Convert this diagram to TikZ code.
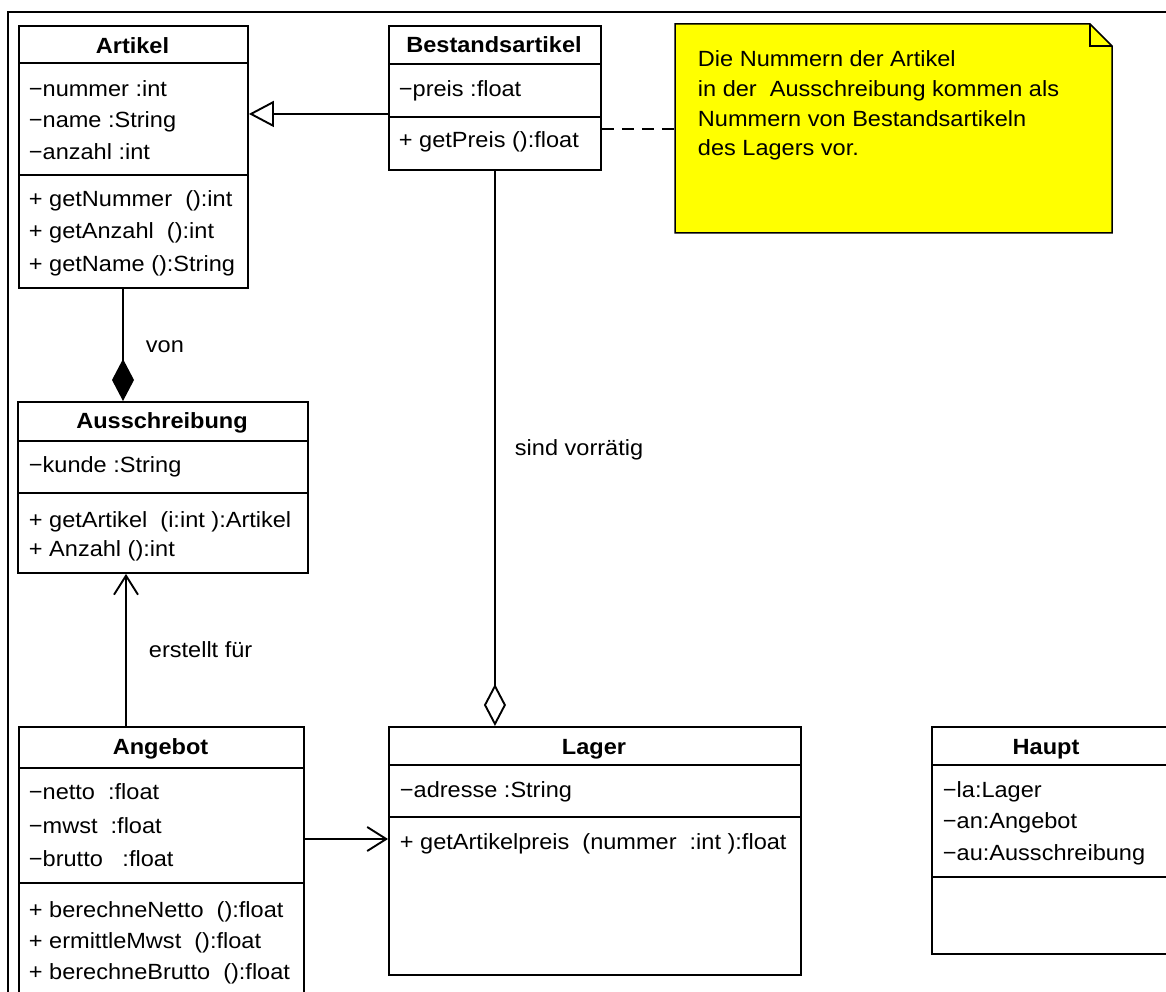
\documentclass[tikz,border=0pt]{standalone}
\usepackage{fontspec}
\setmainfont{Liberation Sans}[FakeStretch=1.07]
\usetikzlibrary{arrows.meta}
\newcommand\fsz{\fontsize{22}{29}\selectfont}
\definecolor{notey}{RGB}{255,255,0}
\begin{document}
\begin{tikzpicture}[x=1pt,y=-1pt, line width=1.9pt,
  cls/.style={draw, rectangle, inner sep=0pt, anchor=north west, fill=white},
  txt/.style={anchor=base west, inner sep=0pt, font=\fsz},
  ttl/.style={anchor=base, inner sep=0pt, font=\fsz\bfseries},
  lbl/.style={anchor=base west, inner sep=0pt, font=\fsz},
  gen/.style={-{Triangle[open, fill=white, length=25pt, width=26pt]}},
  comp/.style={{Diamond[length=42pt, width=22pt]}-},
  aggr/.style={-{Diamond[open, fill=white, length=42pt, width=22pt]}},
  nav/.style={-{Straight Barb[length=19pt, width=24pt]}},
  notelink/.style={dash pattern=on 12pt off 8pt}
]
\useasboundingbox (0,0) rectangle (1166,992);
\clip (0,0) rectangle (1166,992);
\fill[white] (0,0) rectangle (1166,992);
% frame
\draw[line width=2.2pt] (8,1000) -- (8,12) -- (1170,12);

% Artikel
\node[cls, minimum width=229pt, minimum height=262pt] (artikel) at (18,25) {};
\draw (18,63) -- (247,63);
\draw (18,175) -- (247,175);
\node[ttl] at (132.5,54) {Artikel};
\node[txt] at (28,97) {−nummer :int};
\node[txt] at (28,128) {−name :String};
\node[txt] at (28,160) {−anzahl :int};
\node[txt] at (28,207) {+ getNummer\ \ ():int};
\node[txt] at (28,239) {+ getAnzahl\ \ ():int};
\node[txt] at (28,271) {+ getName ():String};

% Bestandsartikel
\node[cls, minimum width=212pt, minimum height=144pt] (bestand) at (388,25) {};
\draw (388,64) -- (600,64);
\draw (388,117) -- (600,117);
\node[ttl] at (494,53) {Bestandsartikel};
\node[txt] at (398,97) {−preis :float};
\node[txt] at (398,148) {+ getPreis ():float};

% Note
\node[minimum width=437pt, minimum height=209pt, anchor=north west, inner sep=0pt] (note) at (675,24) {};
\draw[fill=notey, line width=1.5pt] (675,24) -- (1090,24) -- (1112,46) -- (1112,233) -- (675,233) -- cycle;
\draw[line width=1.5pt] (1090,24) -- (1090,46) -- (1112,46);
\node[txt] at (697,67) {Die Nummern der Artikel};
\node[txt] at (697,97) {in der\ \ Ausschreibung kommen als};
\node[txt] at (697,127) {Nummern von Bestandsartikeln};
\node[txt] at (697,156) {des Lagers vor.};

% Ausschreibung
\node[cls, minimum width=290pt, minimum height=171pt] (aus) at (17,401) {};
\draw (17,441) -- (307,441);
\draw (17,493) -- (307,493);
\node[ttl] at (162,428) {Ausschreibung};
\node[txt] at (28,472) {−kunde :String};
\node[txt] at (28,527) {+ getArtikel\ \ (i:int ):Artikel};
\node[txt] at (28,556) {+ Anzahl ():int};

% Angebot
\node[cls, minimum width=285pt, minimum height=300pt] (angebot) at (18,726) {};
\draw (18,768) -- (303,768);
\draw (18,883) -- (303,883);
\node[ttl] at (160.5,754) {Angebot};
\node[txt] at (28,799) {−netto\ \ :float};
\node[txt] at (28,833) {−mwst\ \ :float};
\node[txt] at (28,866) {−brutto\ \ \ :float};
\node[txt] at (28,917) {+ berechneNetto\ \ ():float};
\node[txt] at (28,948) {+ ermittleMwst\ \ ():float};
\node[txt] at (28,979) {+ berechneBrutto\ \ ():float};

% Lager
\node[cls, minimum width=412pt, minimum height=248pt] (lager) at (388,726) {};
\draw (388,765) -- (800,765);
\draw (388,817) -- (800,817);
\node[ttl] at (594,754) {Lager};
\node[txt] at (399,797) {−adresse :String};
\node[txt] at (399,849) {+ getArtikelpreis\ \ (nummer\ \ :int ):float};

% Haupt
\node[cls, minimum width=260pt, minimum height=227pt] (haupt) at (931,726) {};
\draw (931,765) -- (1191,765);
\draw (931,877) -- (1191,877);
\node[ttl] at (1046,754) {Haupt};
\node[txt] at (942,797) {−la:Lager};
\node[txt] at (942,828) {−an:Angebot};
\node[txt] at (942,860) {−au:Ausschreibung};

% Connectors
\coordinate (cx) at (123,0);
\coordinate (ex) at (126,0);
\coordinate (ay) at (0,839);
\draw[gen] ([yshift=-16pt]bestand.west) coordinate (g0) -- (g0 -| artikel.east);
\draw[notelink] ([yshift=-31pt]bestand.east) coordinate (n0) -- (n0 -| note.west);
\draw[comp] (aus.north -| cx) -- (artikel.south -| cx);
\node[lbl] at (145,352) {von};
\draw[nav] (angebot.north -| ex) -- (aus.south -| ex);
\node[lbl] at (148,657) {erstellt für};
\draw[aggr] (bestand.south) -- (bestand.south |- lager.north);
\node[lbl] at (514,455) {sind vorrätig};
\draw[nav] (angebot.east |- ay) -- (lager.west |- ay);
\end{tikzpicture}
\end{document}
